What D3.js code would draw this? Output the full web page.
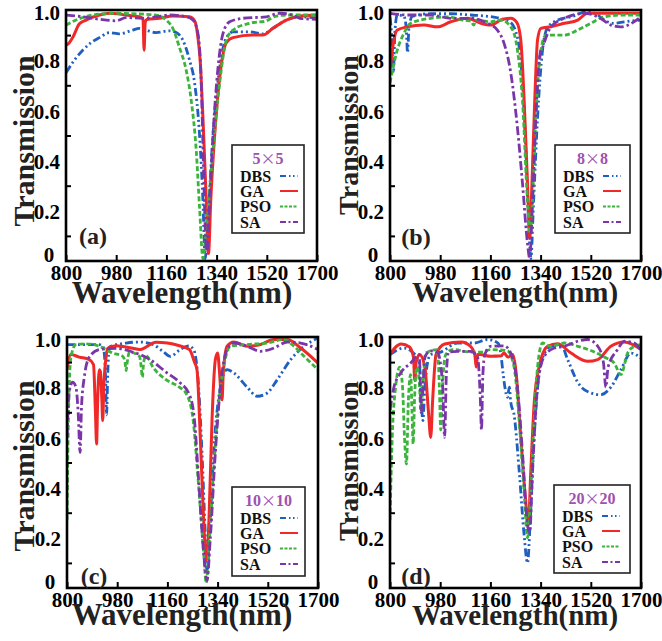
<!DOCTYPE html>
<html>
<head>
<meta charset="utf-8">
<script src="https://cdn.jsdelivr.net/npm/d3@7"></script>
<style>
html,body{margin:0;padding:0;background:#fff;}
svg{display:block;}
text{font-family:"Liberation Serif","Times New Roman",serif;font-weight:bold;}
</style>
</head>
<body>
<svg id="chart" width="662" height="641"></svg>
<script>
// ---------- data ----------
const seriesNames = ["DBS","GA","PSO","SA"];
const panelSizes = [["5","5"],["8","8"],["10","10"],["20","20"]];
const panelLetters = ["(a)","(b)","(c)","(d)"];
const xTicks = [800,980,1160,1340,1520,1700];
const yTicks = [0,0.2,0.4,0.6,0.8,1.0];
const yTickLabels = ["0","0.2","0.4","0.6","0.8","1.0"];
const yMinorTicks = [0.1,0.3,0.5,0.7,0.9];

// panel (a) 5x5
const a_DBS = [[800,0.75],[830,0.80],[860,0.84],[890,0.87],[920,0.89],[956,0.91],[991,0.905],[1039,0.92],[1063,0.927],[1087,0.92],[1123,0.91],[1171,0.917],[1195,0.91],[1219,0.88],[1243,0.80],[1261,0.71],[1279,0.50],[1291,0.24],[1299,0.01],[1309,0.17],[1327,0.50],[1351,0.77],[1375,0.89],[1399,0.913],[1458,0.913],[1506,0.905],[1542,0.927],[1590,0.96],[1638,0.973],[1700,0.967]];
const a_GA = [[800,0.86],[812,0.87],[824,0.89],[848,0.945],[872,0.96],[920,0.98],[956,0.987],[1015,0.98],[1063,0.973],[1076,0.965],[1080,0.84],[1084,0.95],[1090,0.962],[1135,0.967],[1183,0.976],[1243,0.973],[1262,0.955],[1272,0.90],[1281,0.80],[1291,0.57],[1303,0.24],[1311,0.03],[1319,0.24],[1333,0.50],[1351,0.73],[1375,0.87],[1399,0.89],[1470,0.90],[1506,0.90],[1542,0.927],[1590,0.96],[1638,0.976],[1700,0.98]];
const a_PSO = [[800,0.94],[836,0.96],[896,0.98],[980,0.987],[1063,0.984],[1123,0.98],[1159,0.96],[1183,0.927],[1207,0.85],[1231,0.76],[1249,0.64],[1267,0.44],[1279,0.21],[1291,0.01],[1303,0.13],[1327,0.44],[1351,0.71],[1375,0.88],[1399,0.92],[1458,0.947],[1518,0.957],[1554,0.976],[1602,0.98],[1700,0.98]];
const a_SA = [[800,0.98],[860,0.973],[920,0.963],[980,0.957],[1015,0.97],[1075,0.967],[1123,0.973],[1171,0.98],[1231,0.973],[1255,0.96],[1273,0.907],[1285,0.71],[1293,0.37],[1300,0.11],[1305,0.03],[1315,0.24],[1327,0.50],[1345,0.77],[1363,0.907],[1387,0.953],[1435,0.967],[1518,0.973],[1566,0.987],[1614,0.98],[1638,0.967],[1700,0.963]];

// panel (b) 8x8
const b_DBS = [[800,0.97],[806,0.90],[812,0.75],[818,0.92],[826,0.98],[850,0.975],[858,0.93],[863,0.83],[868,0.93],[880,0.975],[946,0.985],[1018,0.985],[1090,0.98],[1150,0.975],[1200,0.965],[1233,0.95],[1257,0.89],[1275,0.71],[1287,0.44],[1299,0.11],[1305,0.01],[1315,0.24],[1329,0.57],[1347,0.84],[1365,0.93],[1401,0.96],[1449,0.973],[1509,0.993],[1545,0.98],[1568,0.96],[1604,0.947],[1640,0.953],[1700,0.96]];
const b_GA = [[800,0.76],[814,0.88],[826,0.92],[862,0.933],[922,0.94],[970,0.933],[1018,0.953],[1078,0.967],[1126,0.947],[1161,0.94],[1197,0.96],[1233,0.967],[1255,0.95],[1269,0.88],[1281,0.64],[1293,0.31],[1301,0.09],[1309,0.31],[1319,0.64],[1329,0.88],[1341,0.927],[1377,0.933],[1425,0.947],[1473,0.96],[1509,0.987],[1545,0.987],[1700,0.987]];
const b_PSO = [[800,0.71],[826,0.84],[850,0.907],[874,0.947],[946,0.967],[1006,0.973],[1060,0.96],[1090,0.955],[1100,0.94],[1110,0.96],[1161,0.953],[1197,0.96],[1233,0.933],[1257,0.84],[1275,0.64],[1293,0.24],[1303,0.11],[1311,0.24],[1323,0.57],[1341,0.84],[1359,0.90],[1425,0.90],[1473,0.92],[1520,0.947],[1568,0.973],[1640,0.98],[1700,0.98]];
const b_SA = [[800,0.987],[862,0.98],[946,0.98],[1018,0.967],[1090,0.967],[1150,0.947],[1185,0.92],[1209,0.867],[1233,0.75],[1257,0.53],[1275,0.31],[1293,0.07],[1301,0.01],[1311,0.24],[1323,0.57],[1335,0.80],[1341,0.84],[1347,0.85],[1353,0.87],[1377,0.933],[1425,0.967],[1497,0.987],[1545,0.973],[1592,0.94],[1628,0.933],[1700,0.973]];

// panel (c) 10x10
const c_DBS = [[800,0.97],[916,0.97],[930,0.96],[938,0.85],[942,0.69],[946,0.85],[952,0.96],[1012,0.976],[1060,0.98],[1108,0.97],[1144,0.943],[1170,0.923],[1206,0.95],[1236,0.965],[1254,0.95],[1272,0.80],[1284,0.54],[1296,0.21],[1302,0.06],[1311,0.21],[1326,0.54],[1350,0.80],[1374,0.87],[1398,0.857],[1446,0.80],[1482,0.764],[1518,0.777],[1554,0.83],[1602,0.91],[1650,0.963],[1700,0.996]];
const c_GA = [[800,0.87],[814,0.93],[844,0.92],[880,0.91],[895,0.89],[902,0.70],[906,0.574],[910,0.75],[916,0.87],[920,0.86],[925,0.75],[928,0.667],[932,0.80],[940,0.92],[946,0.955],[976,0.965],[1036,0.955],[1060,0.95],[1119,0.979],[1160,0.976],[1203,0.965],[1239,0.95],[1257,0.90],[1266,0.87],[1278,0.60],[1290,0.27],[1299,0.11],[1309,0.27],[1320,0.67],[1332,0.91],[1340,0.936],[1347,0.857],[1353,0.76],[1356,0.75],[1360,0.85],[1374,0.963],[1398,0.98],[1446,0.963],[1494,0.97],[1542,0.99],[1590,0.99],[1638,0.956],[1700,0.896]];
const c_PSO = [[800,0.27],[805,0.67],[814,0.92],[832,0.97],[868,0.973],[916,0.963],[964,0.936],[1000,0.923],[1008,0.90],[1012,0.866],[1016,0.90],[1024,0.94],[1060,0.923],[1066,0.88],[1070,0.84],[1075,0.90],[1084,0.925],[1108,0.88],[1155,0.83],[1203,0.80],[1227,0.775],[1251,0.68],[1272,0.405],[1290,0.14],[1299,0.02],[1311,0.20],[1326,0.47],[1344,0.737],[1362,0.883],[1386,0.963],[1446,0.97],[1518,0.976],[1578,0.99],[1614,0.963],[1650,0.923],[1700,0.87]];
const c_SA = [[800,0.60],[808,0.78],[820,0.82],[832,0.80],[840,0.70],[847,0.54],[852,0.72],[862,0.84],[880,0.92],[916,0.95],[976,0.955],[1036,0.94],[1095,0.912],[1155,0.86],[1203,0.82],[1239,0.77],[1257,0.67],[1272,0.43],[1290,0.14],[1302,0.03],[1314,0.20],[1332,0.54],[1350,0.80],[1374,0.95],[1398,0.976],[1446,0.963],[1494,0.943],[1542,0.956],[1590,0.98],[1638,0.976],[1700,0.95]];

// panel (d) 20x20
const d_DBS = [[800,0.93],[850,0.956],[880,0.94],[905,0.90],[912,0.75],[918,0.667],[924,0.78],[935,0.90],[946,0.93],[982,0.94],[1042,0.976],[1102,0.976],[1150,0.99],[1188,0.975],[1197,0.936],[1206,0.85],[1212,0.80],[1221,0.76],[1228,0.80],[1233,0.74],[1245,0.69],[1263,0.47],[1281,0.21],[1293,0.10],[1303,0.27],[1317,0.60],[1341,0.896],[1377,0.963],[1413,0.97],[1437,0.91],[1473,0.82],[1520,0.777],[1556,0.77],[1592,0.80],[1628,0.87],[1664,0.936],[1700,0.916]];
const d_GA = [[800,0.932],[840,0.972],[870,0.96],[884,0.92],[889,0.826],[894,0.90],[906,0.93],[925,0.88],[938,0.70],[946,0.60],[953,0.75],[965,0.93],[996,0.972],[1055,0.98],[1091,0.96],[1104,0.93],[1109,0.88],[1114,0.93],[1123,0.93],[1161,0.923],[1198,0.925],[1209,0.936],[1223,0.92],[1240,0.93],[1251,0.87],[1269,0.60],[1287,0.34],[1296,0.25],[1305,0.47],[1317,0.737],[1335,0.883],[1365,0.963],[1401,0.973],[1449,0.936],[1509,0.903],[1545,0.91],[1592,0.963],[1640,0.98],[1700,0.95]];
const d_PSO = [[800,0.27],[808,0.60],[820,0.80],[835,0.88],[845,0.80],[852,0.60],[859,0.494],[866,0.75],[874,0.85],[879,0.70],[883,0.574],[888,0.75],[896,0.88],[905,0.82],[911,0.70],[917,0.80],[928,0.936],[970,0.95],[977,0.80],[982,0.63],[988,0.80],[1000,0.93],[1024,0.95],[1090,0.94],[1126,0.94],[1161,0.95],[1221,0.945],[1245,0.88],[1263,0.67],[1281,0.38],[1293,0.20],[1303,0.34],[1317,0.67],[1329,0.88],[1347,0.976],[1377,0.963],[1425,0.976],[1473,0.963],[1520,0.946],[1568,0.92],[1604,0.896],[1628,0.85],[1652,0.936],[1676,0.963],[1700,0.97]];
const d_SA = [[800,0.71],[814,0.80],[838,0.856],[874,0.896],[905,0.93],[912,0.70],[916,0.75],[925,0.92],[946,0.945],[970,0.94],[988,0.82],[996,0.60],[1002,0.85],[1010,0.94],[1042,0.943],[1090,0.943],[1114,0.92],[1124,0.75],[1128,0.63],[1133,0.85],[1140,0.93],[1161,0.963],[1209,0.965],[1233,0.936],[1257,0.80],[1275,0.54],[1293,0.25],[1301,0.22],[1311,0.47],[1329,0.80],[1353,0.923],[1389,0.956],[1425,0.963],[1473,0.983],[1509,0.99],[1545,0.963],[1565,0.90],[1574,0.80],[1582,0.88],[1616,0.95],[1640,0.983],[1676,0.976],[1700,0.945]];

// ---------- styling / layout ----------
const panelData = [
  [a_DBS,a_GA,a_PSO,a_SA],
  [b_DBS,b_GA,b_PSO,b_SA],
  [c_DBS,c_GA,c_PSO,c_SA],
  [d_DBS,d_GA,d_PSO,d_SA]
];
const colors = {DBS:"#1f5fbf",GA:"#f02828",PSO:"#3cb43c",SA:"#7a35a8"};
const dashes = {DBS:"8,3,2,3,2,3",GA:null,PSO:"5,2.5",SA:"9,3,2.5,3"};
const titleColor = "#a050b0";
const serif = '"Liberation Serif","Times New Roman",serif';

const layout = [
  {x0:66,x1:317,y0:10,y1:261, ytx:34, yty:141, yfs:30, xtx:182, xty:303, xfs:31, lab:[93,244], leg:[232,145,72,88]},
  {x0:390,x1:641,y0:10,y1:261, ytx:358, yty:135, yfs:28, xtx:515, xty:302, xfs:29, lab:[416,245], leg:[555,145,75,88]},
  {x0:67,x1:318,y0:337,y1:588, ytx:34, yty:466, yfs:30, xtx:182, xty:625, xfs:31, lab:[94,584], leg:[232,487,73,89]},
  {x0:390,x1:641,y0:337,y1:588, ytx:358, yty:461, yfs:28, xtx:515, xty:625, xfs:29, lab:[416,584], leg:[554,485,76,88]}
];

const svg = d3.select("#chart");

layout.forEach((L, i) => {
  const x = d3.scaleLinear().domain([800,1700]).range([L.x0, L.x1]);
  const y = d3.scaleLinear().domain([0,1]).range([L.y1, L.y0]);
  const g = svg.append("g");

  const clipId = "clip" + i;
  svg.append("clipPath").attr("id", clipId).append("rect")
    .attr("x", L.x0).attr("y", L.y0 - 2).attr("width", L.x1 - L.x0).attr("height", L.y1 - L.y0 + 2);

  const line = d3.line().x(d => x(d[0])).y(d => y(d[1])).curve(d3.curveMonotoneX);
  const plot = g.append("g").attr("clip-path", `url(#${clipId})`);
  seriesNames.forEach((s, k) => {
    plot.append("path")
      .datum(panelData[i][k])
      .attr("d", line)
      .attr("fill", "none")
      .attr("stroke", colors[s])
      .attr("stroke-width", s === "GA" ? 3 : 2.8)
      .attr("stroke-dasharray", dashes[s])
      .attr("stroke-linejoin", "round");
  });

  // x axis
  const xa = g.append("g").attr("transform", `translate(0,${L.y1})`)
    .call(d3.axisBottom(x).tickValues(xTicks).tickFormat(d3.format("d")).tickSize(-6).tickSizeOuter(0).tickPadding(4));
  xa.select(".domain").remove();
  xa.selectAll("line").attr("stroke", "#000").attr("stroke-width", 2);
  xa.selectAll("text").attr("font-size", 21).attr("fill", "#000")
    .style("font-family", serif).style("font-weight", "bold");

  // y axis labels
  const ya = g.append("g").attr("transform", `translate(${L.x0},0)`)
    .call(d3.axisLeft(y).tickValues(yTicks).tickFormat((d, j) => yTickLabels[j]).tickSize(0).tickPadding(6));
  ya.select(".domain").remove();
  ya.selectAll("text").attr("font-size", 21).attr("fill", "#000")
    .style("font-family", serif).style("font-weight", "bold").attr("y", 1);
  ya.selectAll(".tick").filter(d => d === 1).select("text").attr("y", 3);
  ya.selectAll(".tick").filter(d => d === 0).select("text")
    .attr("text-anchor", "middle").attr("x", -17).attr("y", -6);

  // y minor ticks (inward)
  const ym = g.append("g").attr("transform", `translate(${L.x0},0)`)
    .call(d3.axisLeft(y).tickValues(yMinorTicks).tickSize(-5).tickFormat(""));
  ym.select(".domain").remove();
  ym.selectAll("line").attr("stroke", "#000").attr("stroke-width", 2);

  // frame
  g.append("rect").attr("x", L.x0).attr("y", L.y0)
    .attr("width", L.x1 - L.x0).attr("height", L.y1 - L.y0)
    .attr("fill", "none").attr("stroke", "#000").attr("stroke-width", 2.6);

  // axis titles
  g.append("text").attr("x", L.xtx).attr("y", L.xty).attr("text-anchor", "middle")
    .attr("font-size", L.xfs).attr("fill", "#222").text("Wavelength(nm)");
  g.append("text").attr("transform", `translate(${L.ytx},${L.yty}) rotate(-90)`)
    .attr("text-anchor", "middle").attr("font-size", L.yfs).attr("fill", "#222").text("Transmission");

  // panel letter
  g.append("text").attr("x", L.lab[0]).attr("y", L.lab[1]).attr("text-anchor", "middle")
    .attr("font-size", 24).attr("fill", "#222").text(panelLetters[i]);

  // legend
  const [lx, ly, lw, lh] = L.leg;
  const lg = g.append("g");
  lg.append("rect").attr("x", lx).attr("y", ly).attr("width", lw).attr("height", lh)
    .attr("fill", "#fff").attr("stroke", "#222").attr("stroke-width", 1.6);
  const tt = lg.append("text").attr("x", lx + lw / 2).attr("y", ly + 19).attr("text-anchor", "middle")
    .attr("font-size", 16).attr("fill", titleColor);
  tt.append("tspan").text(panelSizes[i][0]);
  tt.append("tspan").style("font-family", '"Noto Sans CJK SC","DejaVu Sans",sans-serif')
    .style("font-weight", "normal").attr("font-size", 15).text("×");
  tt.append("tspan").text(panelSizes[i][1]);
  const rowY = [31, 46, 61.5, 77];
  seriesNames.forEach((s, k) => {
    const cy = ly + rowY[k];
    lg.append("text").attr("x", lx + 8).attr("y", cy + 5.5).attr("font-size", 16)
      .attr("fill", "#111").text(s);
    lg.append("line").attr("x1", lx + 48).attr("x2", lx + 66).attr("y1", cy).attr("y2", cy)
      .attr("stroke", colors[s]).attr("stroke-width", 2)
      .attr("stroke-dasharray", s === "DBS" ? "6,3,1.5,2.5,1.5,3" : s === "PSO" ? "3,1.5" : s === "SA" ? "6,2.5,2,2.5" : null);
  });
});
</script>
</body>
</html>
